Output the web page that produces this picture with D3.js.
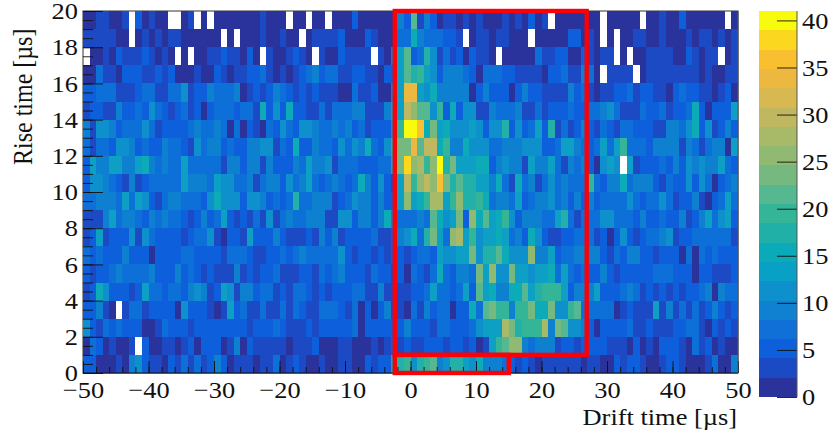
<!DOCTYPE html>
<html><head><meta charset="utf-8">
<script src="https://cdn.jsdelivr.net/npm/d3@7"></script>
<style>html,body{margin:0;padding:0;background:#fff}svg{display:block}
text{font-family:"Liberation Serif",serif;fill:#111}</style></head><body>
<svg id="c" width="833" height="437"><defs><filter id="soft" x="-2%" y="-2%" width="104%" height="104%"><feGaussianBlur stdDeviation="0.45"/></filter></defs></svg>
<script>
const rise19=[1,1,3,3,1,1,3,0,5,1,3,1,1,0,0,1,3,0,1,0,1,1,1,1,1,1,1,3,1,1,1,0,1,1,0,1,1,0,1,1,1,5,1,1,1,1,1,1,9,5,21,3,9,5,1,3,3,1,3,1,3,1,1,1,3,1,3,1,5,1,3,0,1,1,1,1,1,1,1,0,1,1,1,1,1,0,1,1,3,1,1,5,1,1,1,1,1,1,0,1];
const rise18=[3,3,3,3,3,1,1,0,1,3,1,3,1,3,3,1,1,1,1,1,1,0,1,0,1,1,1,3,1,1,3,1,1,0,1,3,3,3,3,5,1,1,1,5,3,1,1,1,7,7,15,9,7,7,7,5,5,3,0,1,3,3,1,3,3,1,1,1,0,1,1,1,1,1,5,5,1,3,1,0,1,0,1,1,3,3,1,1,3,1,1,1,3,1,3,3,1,3,1,3];
const rise17=[0,1,1,3,1,5,3,3,3,5,3,1,3,1,0,1,0,1,1,3,3,5,3,3,1,5,1,0,3,1,1,3,5,3,1,0,3,1,1,5,3,3,3,3,0,3,1,9,13,21,5,7,17,11,3,7,3,5,1,5,3,3,1,0,1,1,1,1,1,7,3,3,5,5,1,1,5,3,1,3,3,0,1,0,1,1,3,3,3,3,1,1,5,3,1,3,3,0,1,3];
const rise16=[1,1,7,3,3,1,5,5,5,3,3,5,3,5,1,1,1,3,1,1,5,3,1,3,3,5,5,7,3,1,3,1,3,5,7,9,5,7,7,3,3,5,5,3,3,1,5,5,13,21,17,19,13,11,5,9,9,9,7,5,1,7,7,7,5,5,3,3,3,3,1,5,5,7,3,3,9,7,1,0,3,3,3,3,0,1,3,3,3,3,3,3,3,3,1,3,1,1,3,3];
const rise15=[5,5,7,7,7,3,3,3,5,7,7,3,3,7,7,11,3,5,5,9,7,7,7,9,1,3,5,3,5,9,7,5,3,5,3,5,3,3,3,1,1,7,3,3,5,1,1,9,13,33,33,13,11,15,9,9,9,9,9,1,5,9,5,5,5,1,5,9,5,5,3,3,3,3,9,5,7,3,1,3,3,5,5,7,3,5,5,3,3,1,5,7,5,5,3,3,1,3,5,1];
const rise14=[3,5,5,3,3,9,5,5,7,5,11,7,5,3,5,7,3,5,1,5,7,7,7,5,7,7,3,15,5,11,5,15,5,5,3,3,7,3,7,7,7,9,9,3,3,3,9,13,13,29,25,21,21,11,19,5,15,5,11,11,3,3,9,7,7,7,9,3,3,7,3,5,5,5,7,5,5,7,7,9,11,7,3,3,3,7,5,5,7,3,5,5,7,15,5,1,5,5,5,13];
const rise13=[9,3,11,11,9,5,7,7,7,11,7,3,5,5,5,5,7,9,7,7,9,7,1,7,1,5,3,1,7,5,11,7,5,11,11,9,7,7,9,7,9,5,7,3,5,5,5,11,19,40,40,35,15,23,13,15,11,11,11,13,11,5,11,11,17,5,11,5,7,13,5,17,3,7,3,5,9,5,3,7,5,3,7,7,5,5,5,3,3,9,9,7,11,15,5,11,3,5,9,5];
const rise12=[7,3,7,7,5,11,11,9,5,7,5,5,9,7,7,5,3,11,7,9,9,5,7,5,5,9,9,11,11,3,7,5,15,5,5,9,7,7,5,11,7,11,9,15,7,5,11,17,23,23,33,21,29,29,15,19,9,9,15,11,11,11,7,7,9,9,9,11,11,11,5,5,7,13,13,9,7,5,7,13,7,13,19,7,7,7,5,9,9,9,9,3,9,7,3,7,9,9,1,13];
const rise11=[5,13,9,9,13,13,9,9,13,15,9,7,9,7,7,13,7,7,7,7,7,3,9,9,5,9,9,3,9,5,5,5,9,7,13,9,9,11,3,7,7,7,5,5,5,7,7,15,23,37,25,27,19,25,40,17,23,13,13,13,15,15,5,9,11,9,9,3,13,9,9,13,7,3,9,7,9,5,1,11,13,11,0,13,3,5,5,5,7,5,9,5,11,9,11,9,9,13,7,5];
const rise10=[5,11,11,9,7,5,3,9,3,5,7,7,7,7,7,13,9,9,9,7,13,11,11,7,7,9,3,7,9,9,5,11,7,9,13,7,5,7,9,7,5,7,15,9,5,11,5,3,13,29,19,25,29,25,35,23,17,21,17,17,13,13,9,15,7,3,15,7,9,3,7,11,7,9,7,7,7,19,7,5,9,9,15,7,9,9,9,5,3,7,5,5,11,5,11,7,1,5,7,9];
const rise9=[7,7,9,9,9,7,13,7,13,11,5,3,7,9,9,7,7,7,5,11,15,11,11,11,5,11,11,9,5,7,5,7,17,7,7,9,9,9,3,5,7,11,9,9,5,9,5,5,13,25,13,15,19,27,27,13,19,25,17,17,19,15,7,9,9,7,13,5,7,9,9,11,7,9,5,9,5,9,5,7,7,7,7,11,7,5,7,7,11,7,3,5,5,9,3,1,5,7,13,7];
const rise8=[3,3,3,9,13,7,9,9,7,5,9,7,9,7,7,5,3,5,9,5,7,13,5,3,5,3,7,3,11,3,7,9,7,7,9,9,9,3,3,11,11,5,9,9,5,9,15,9,7,7,7,9,7,21,15,11,13,23,5,25,15,21,13,15,19,11,5,9,9,9,7,7,13,17,7,3,7,7,7,11,11,7,7,7,5,9,5,5,7,5,5,9,3,5,9,13,7,11,13,5];
const rise7=[3,5,13,3,5,5,5,11,3,11,7,5,5,5,5,3,5,7,7,11,3,1,5,5,3,13,5,5,5,9,5,3,3,3,5,3,9,5,9,3,5,5,5,5,7,3,3,5,9,11,15,7,17,23,13,7,25,27,13,19,11,13,13,15,13,7,9,5,15,11,5,3,3,5,5,7,7,7,3,5,1,5,11,5,3,5,7,7,9,11,3,5,5,7,7,7,7,7,7,3];
const rise6=[7,5,7,5,5,5,9,5,5,5,1,5,5,5,5,7,7,5,5,5,5,3,7,7,7,5,3,3,5,5,7,5,7,9,7,7,7,7,7,11,5,3,5,5,3,5,3,5,5,3,5,7,7,5,13,11,11,13,13,23,11,17,17,21,15,11,11,11,25,9,9,13,5,7,7,9,9,9,9,5,3,7,5,9,9,5,5,3,5,5,5,1,7,1,7,5,7,5,5,5];
const rise5=[5,3,5,5,7,9,7,7,7,7,9,5,5,5,9,5,7,5,3,5,3,3,3,9,3,5,3,5,5,7,3,3,3,5,5,3,7,5,7,9,5,5,5,3,7,5,5,3,5,1,7,5,3,7,15,7,5,9,9,7,23,13,25,11,11,23,13,13,11,13,13,15,7,13,7,5,7,5,5,9,5,3,5,5,5,5,5,7,7,7,5,5,5,1,5,5,3,3,3,5];
const rise4=[3,5,15,11,5,5,5,3,5,13,7,7,5,7,7,5,9,11,9,3,5,13,11,3,9,9,5,7,7,3,5,3,7,7,5,3,5,3,5,5,5,7,7,3,3,9,3,3,3,3,5,5,7,13,7,7,5,7,13,5,21,13,15,9,9,15,15,21,13,17,19,19,19,13,5,9,9,9,13,5,5,5,7,9,7,3,5,3,5,3,5,3,5,5,7,9,1,9,7,7];
const rise3=[5,5,9,3,1,0,3,7,7,3,5,5,5,5,1,11,5,5,5,3,1,3,13,5,7,3,3,7,3,3,7,3,7,5,3,3,7,7,7,5,3,7,1,5,1,5,9,3,3,1,7,3,9,5,7,7,1,5,5,15,7,21,23,19,19,9,19,19,23,15,15,23,11,11,19,21,7,7,7,7,7,1,3,5,3,3,3,13,3,9,3,7,3,7,3,5,9,5,3,5];
const rise2=[11,5,3,7,5,7,5,5,5,1,1,3,7,5,5,5,3,5,5,5,5,5,5,5,5,3,5,5,5,7,5,3,3,3,5,3,5,5,5,5,5,7,1,5,5,5,5,5,5,9,5,5,5,3,7,7,5,5,5,7,11,13,13,13,27,23,17,19,19,19,27,9,23,21,11,11,9,5,1,5,5,5,5,7,3,3,5,3,3,3,5,5,7,7,3,1,5,3,5,3];
const rise1=[1,7,5,1,3,1,1,3,0,5,1,1,3,3,1,3,5,1,5,5,5,1,3,9,1,5,3,3,3,3,3,1,3,3,3,5,1,1,1,3,3,1,1,1,3,1,3,5,3,5,3,3,5,5,5,3,5,5,3,5,1,3,13,19,21,25,25,9,7,9,9,9,3,5,5,3,5,5,5,5,3,3,3,1,5,1,3,1,5,5,5,3,1,7,3,5,1,3,1,1];
const rise0=[5,5,1,1,1,3,1,9,11,5,3,3,1,5,3,7,3,7,3,5,9,5,1,3,3,3,1,3,3,7,1,3,5,3,1,1,3,1,1,3,3,1,1,5,3,5,5,15,17,19,11,17,19,21,9,11,17,17,13,11,15,9,9,9,7,5,3,5,3,1,3,3,3,3,3,3,1,3,3,1,1,5,3,5,5,3,1,1,3,5,5,3,1,1,1,3,7,1,1,9];
const rows=[rise0,rise1,rise2,rise3,rise4,rise5,rise6,rise7,rise8,rise9,rise10,rise11,rise12,rise13,rise14,rise15,rise16,rise17,rise18,rise19];

const palette=["#2a339c","#1a4ac4","#0e5fdc","#1070d8","#1080d0","#0e90cc","#08a0c4","#0aaab8","#20b0a8","#35b598","#55b890","#75b980","#90b972","#a8b968","#c0b860","#d8b850","#ecb840","#f8c030","#fbd81f","#f9fb0e"];
const xTicks=[-50,-40,-30,-20,-10,0,10,20,30,40,50];
const yTicks=[0,2,4,6,8,10,12,14,16,18,20];
const zTicks=[0,5,10,15,20,25,30,35,40];
const zMax=41;
const regionX=[-2.4,26.9,15], regionY=[20,1,0];
const stretch=1.1;

const svg=d3.select("#c");
const x=d3.scaleLinear().domain([-50,50]).range([83,738]);
const y=d3.scaleLinear().domain([0,20]).range([373,11]);
const colour=d3.scaleQuantize().domain([0,zMax]).range(palette);
const fmt=d=>String(d).replace("-","\u2212");

svg.append("rect").attr("x",x(-50)).attr("y",y(20)).attr("width",x(50)-x(-50)).attr("height",y(0)-y(20))
  .attr("fill","none").attr("stroke","#333").attr("stroke-width",1);

const cells=[];
rows.forEach((r,j)=>r.forEach((v,i)=>{if(v>0)cells.push({i,j,v});}));
svg.append("g").attr("filter","url(#soft)").append("g").attr("shape-rendering","crispEdges").selectAll("rect").data(cells).join("rect")
  .attr("x",d=>x(-50+d.i)).attr("y",d=>y(d.j+1))
  .attr("width",d=>x(-49+d.i)-x(-50+d.i)).attr("height",d=>y(d.j)-y(d.j+1))
  .attr("fill",d=>colour(d.v));

function ax(g){g.select(".domain").remove();g.selectAll("line").attr("stroke","#111").attr("stroke-width",0.9);
  g.selectAll("text").attr("font-size",24).style("font-family",'"Liberation Serif",serif').attr("fill","#111")
   .attr("transform",function(){const a=+this.getAttribute("x")||0;return `translate(${a},0) scale(${stretch},1) translate(${-a},0)`;});}

svg.append("g").attr("transform",`translate(0,${y(0)})`)
  .call(d3.axisBottom(x).tickValues(d3.range(-50,51,2)).tickSize(-6).tickFormat("")).call(ax);
svg.append("g").attr("transform",`translate(0,${y(0)})`)
  .call(d3.axisBottom(x).tickValues(xTicks).tickSize(-12).tickPadding(8).tickFormat(fmt)).call(ax);
svg.append("g").attr("transform",`translate(${x(-50)},0)`)
  .call(d3.axisLeft(y).tickValues(d3.range(0,20.1,0.5)).tickSize(-10).tickFormat("")).call(ax);
svg.append("g").attr("transform",`translate(${x(-50)},0)`)
  .call(d3.axisLeft(y).tickValues(yTicks).tickSize(-20).tickPadding(5).tickFormat(fmt)).call(ax);

svg.append("line").attr("x1",x(-50)).attr("x2",x(50)).attr("y1",y(0)).attr("y2",y(0)).attr("stroke","#111").attr("stroke-width",1.2);
svg.append("line").attr("x1",x(50)).attr("x2",x(50)).attr("y1",y(0)).attr("y2",y(20)).attr("stroke","#555").attr("stroke-width",1);

const red=svg.append("g").attr("fill","none").attr("stroke","#fb0007").attr("stroke-width",4.4);
red.append("rect").attr("x",x(regionX[0])).attr("y",y(regionY[0])).attr("width",x(regionX[1])-x(regionX[0])).attr("height",y(regionY[1])-y(regionY[0]));
red.append("rect").attr("x",x(regionX[0])).attr("y",y(regionY[1])).attr("width",x(regionX[2])-x(regionX[0])).attr("height",y(regionY[2])-y(regionY[1]));

const z=d3.scaleLinear().domain([0,zMax]).range([397,11]);
const bandW=zMax/palette.length;
svg.append("g").attr("shape-rendering","crispEdges").selectAll("rect").data(palette).join("rect")
  .attr("x",759).attr("width",38)
  .attr("y",(d,i)=>z((i+1)*bandW)).attr("height",(d,i)=>z(i*bandW)-z((i+1)*bandW))
  .attr("fill",d=>d);
svg.append("g").attr("transform","translate(797,0)")
  .call(d3.axisRight(z).tickValues(zTicks).tickSize(-20).tickPadding(5).tickFormat(fmt)).call(ax);
svg.append("line").attr("x1",797).attr("x2",797).attr("y1",z(0)).attr("y2",z(zMax)).attr("stroke","#555");

svg.append("text").attr("transform",`translate(737,425) scale(${stretch},1)`).attr("text-anchor","end").attr("font-size",24).text("Drift time [µs]");
svg.append("text").attr("transform",`translate(32,165) scale(${stretch},1) rotate(-90)`).attr("text-anchor","start").attr("font-size",24).text("Rise time [µs]");
</script></body></html>
